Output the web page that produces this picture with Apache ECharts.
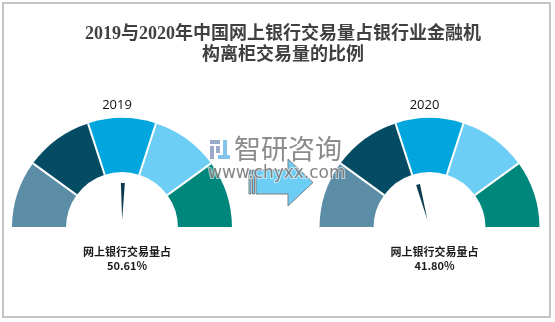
<!DOCTYPE html>
<html>
<head>
<meta charset="utf-8">
<script src="https://cdn.jsdelivr.net/npm/echarts@6/dist/echarts.min.js"></script>
<style>
html,body{margin:0;padding:0;background:#fff;}
#main{width:555px;height:322px;}
</style>
</head>
<body>
<div id="main"></div>
<script>
var titleText = '2019与2020年中国网上银行交易量占银行业金融机\n构离柜交易量的比例';
var years = ['2019', '2020'];
var shares = [50.61, 41.80];
var detailLabel = '网上银行交易量占';
var bandColors = ['#5B8EA6', '#034C64', '#00A6DD', '#6DCEF5', '#00877C'];
var bandStops = [0.2, 0.4, 0.6, 0.8, 1];
var gaugeCenters = [[122, 228], [429.5, 228]];

var chart = echarts.init(document.getElementById('main'), null, {renderer: 'canvas'});

function makeGauge(i) {
  return {
    type: 'gauge',
    center: gaugeCenters[i],
    radius: 110,
    startAngle: 180,
    endAngle: 0,
    min: 0,
    max: 100,
    splitNumber: 5,
    animation: false,
    axisLine: {
      roundCap: false,
      lineStyle: {
        width: 54,
        color: bandStops.map(function (s, k) { return [s, bandColors[k]]; })
      }
    },
    splitLine: {show: true, distance: -54, length: 54, lineStyle: {color: '#fff', width: 2}},
    axisTick: {show: false},
    axisLabel: {show: false},
    pointer: {
      icon: 'path://M0 0 L4 0 L2 37 Z',
      length: 37,
      width: 4,
      offsetCenter: [0, -8],
      itemStyle: {color: '#0C3B4E'}
    },
    anchor: {show: false},
    title: {
      show: true,
      offsetCenter: [-5, -123],
      fontSize: 13,
      color: '#111',
      fontFamily: 'Open Sans, Liberation Sans, sans-serif'
    },
    detail: {
      show: true,
      offsetCenter: [5, 31],
      fontSize: 11,
      fontWeight: 'bold',
      lineHeight: 14,
      color: '#1a1a1a',
      fontFamily: 'Noto Sans CJK SC, sans-serif',
      formatter: function (v) { return detailLabel + '\n' + v.toFixed(2) + '%'; }
    },
    data: [{value: shares[i], name: years[i]}]
  };
}

chart.setOption({
  backgroundColor: '#fff',
  animation: false,
  graphic: [
    {type: 'rect', shape: {x: 3, y: 3, width: 547, height: 314}, style: {fill: 'none', stroke: '#C4C4C4', lineWidth: 2}, z: 100},
    {type: 'text', x: 283, y: 24, style: {text: titleText, textAlign: 'center', textVerticalAlign: 'top', font: 'bold 18px "Liberation Serif", "Noto Sans CJK SC", serif', lineHeight: 21, fill: '#404040'}},
    // transition arrow
    {type: 'polygon', shape: {points: [[256,170],[288,170],[288,159],[313,182.5],[288,206],[288,194],[256,194]]}, style: {fill: '#6DCEF5', stroke: '#7F7F7F', lineWidth: 1}, z: 5},
    {type: 'rect', shape: {x: 249, y: 170, width: 2, height: 24}, style: {fill: '#6DCEF5', stroke: '#7F7F7F', lineWidth: 1}, z: 5},
    {type: 'rect', shape: {x: 252.5, y: 170, width: 2, height: 24}, style: {fill: '#6DCEF5', stroke: '#7F7F7F', lineWidth: 1}, z: 5},
    // watermark logo
    {type: 'rect', shape: {x: 210, y: 140, width: 10, height: 4}, style: {fill: 'rgba(120,140,180,0.75)'}, z: 20},
    {type: 'rect', shape: {x: 210, y: 146, width: 4, height: 13}, style: {fill: 'rgba(120,140,180,0.75)'}, z: 20},
    {type: 'rect', shape: {x: 216, y: 146, width: 4, height: 7}, style: {fill: 'rgba(120,140,180,0.75)'}, z: 20},
    {type: 'rect', shape: {x: 223, y: 140, width: 4, height: 15}, style: {fill: 'rgba(100,180,230,0.8)'}, z: 20},
    {type: 'rect', shape: {x: 218, y: 155, width: 12, height: 4}, style: {fill: 'rgba(100,180,230,0.8)'}, z: 20},
    {type: 'text', x: 234, y: 149, style: {text: '智研咨询', textVerticalAlign: 'middle', font: '27px "Noto Sans CJK SC", sans-serif', fill: 'rgba(110,110,110,0.8)'}, z: 30},
    {type: 'text', x: 208, y: 174, style: {text: 'www.chyxx.com', textVerticalAlign: 'middle', font: '17px "DejaVu Sans", sans-serif', fill: 'rgba(110,110,110,0.85)', stroke: 'rgba(255,255,255,0.6)', lineWidth: 2}, z: 30}
  ],
  series: [makeGauge(0), makeGauge(1)]
});
</script>
</body>
</html>
